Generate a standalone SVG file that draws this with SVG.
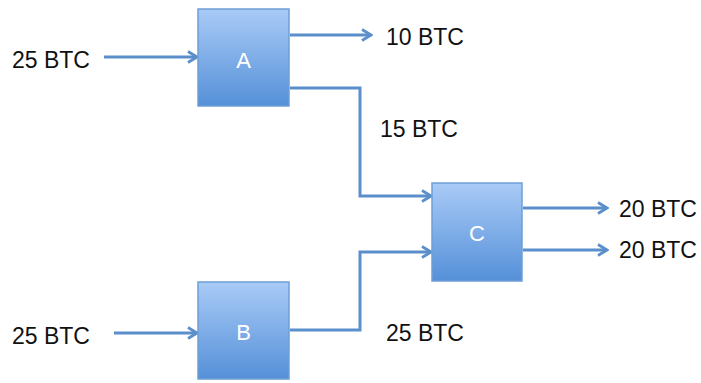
<svg xmlns="http://www.w3.org/2000/svg" width="701" height="383" viewBox="0 0 701 383">
  <defs>
    <linearGradient id="boxFill" x1="0" y1="0" x2="0" y2="1">
      <stop offset="0" stop-color="#a9cbf7"/>
      <stop offset="1" stop-color="#5590d8"/>
    </linearGradient>
    <marker id="arrow" viewBox="0 0 14 14" refX="12" refY="7" markerWidth="14" markerHeight="14" markerUnits="userSpaceOnUse" orient="auto">
      <path d="M3,1.5 L12,7 L3,12.5" fill="none" stroke="#5b8fcb" stroke-width="2.8" stroke-linejoin="miter"/>
    </marker>
  </defs>
  <style>
    .box { fill: url(#boxFill); stroke: #6e9ed6; stroke-width: 1.5; }
    .name { font-family: "Liberation Sans", Arial, sans-serif; font-size: 22px; fill: #ffffff; text-anchor: middle; }
    .amt { font-family: "Liberation Sans", Arial, sans-serif; font-size: 23px; fill: #111111; }
    .wire { fill: none; stroke: #5b8fcb; stroke-width: 3; marker-end: url(#arrow); }
  </style>
  <rect width="701" height="383" fill="#ffffff"/>

  <g id="connectors">
    <path class="wire" d="M104,57 L197,57"/>
    <path class="wire" d="M290,35 L371,35"/>
    <path class="wire" d="M290,88 L360,88 L360,196 L431,196"/>
    <path class="wire" d="M114,333 L197,333"/>
    <path class="wire" d="M290,330 L360,330 L360,252 L431,252"/>
    <path class="wire" d="M523,208 L607,208"/>
    <path class="wire" d="M523,250 L607,250"/>
  </g>

  <g id="node-A">
    <rect class="box" x="198" y="9" width="91" height="97"/>
    <text class="name" x="243.5" y="68">A</text>
  </g>
  <g id="node-B">
    <rect class="box" x="198" y="282" width="91" height="97"/>
    <text class="name" x="243.5" y="340">B</text>
  </g>
  <g id="node-C">
    <rect class="box" x="432" y="183" width="90" height="98"/>
    <text class="name" x="477" y="241">C</text>
  </g>

  <g id="labels">
    <text class="amt" x="12" y="68">25 BTC</text>
    <text class="amt" x="386" y="45">10 BTC</text>
    <text class="amt" x="380" y="137">15 BTC</text>
    <text class="amt" x="619" y="217">20 BTC</text>
    <text class="amt" x="619" y="258">20 BTC</text>
    <text class="amt" x="12" y="344">25 BTC</text>
    <text class="amt" x="386" y="341">25 BTC</text>
  </g>
</svg>
